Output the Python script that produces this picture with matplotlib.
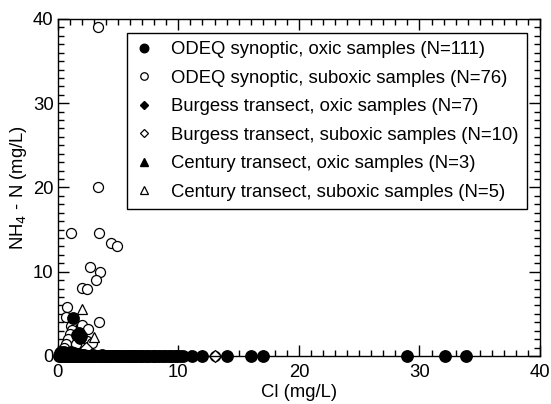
import matplotlib.pyplot as plt
from matplotlib.ticker import MultipleLocator

plt.rcParams['font.family'] = ['Liberation Sans', 'DejaVu Sans']

# ODEQ synoptic, oxic samples (N=111)
odeq_oxic_cl = [0.1, 0.2, 0.3, 0.3, 0.4, 0.5, 0.5, 0.6, 0.7, 0.8, 0.8, 0.9, 1.0, 1.0,
                1.1, 1.2, 1.3, 1.3, 1.4, 1.5, 1.6, 1.7, 1.8, 1.9, 2.0, 2.1, 2.2, 2.3,
                2.4, 2.5, 2.6, 2.7, 2.8, 2.9, 3.0, 3.1, 3.3, 3.4, 3.5, 3.6, 3.8, 3.9,
                4.0, 4.2, 4.3, 4.5, 4.6, 4.8, 4.9, 5.1, 5.2, 5.4, 5.5, 5.7, 5.8, 6.0,
                6.1, 6.3, 6.4, 6.6, 6.8, 6.9, 7.1, 7.3, 7.4, 7.6, 7.8, 8.0, 8.1, 8.3,
                8.5, 8.7, 8.9, 9.1, 9.3, 9.5, 9.7, 9.9, 10.1, 10.4, 11.1, 12.0, 14.0,
                16.0, 17.0, 29.0, 32.1, 33.9,
                0.2, 0.5, 0.8, 1.1, 1.3, 0.4, 0.9, 1.6, 2.2, 2.9, 3.7, 0.6, 1.4,
                2.0, 4.4, 5.0, 6.5, 1.27, 1.74, 1.6, 1.9, 1.8, 0.3]
odeq_oxic_nh4 = [0.0, 0.05, 0.0, 0.1, 0.0, 0.0, 0.1, 0.0, 0.05, 0.0, 0.1, 0.0, 0.0, 0.1,
                 0.0, 0.05, 0.0, 0.1, 0.0, 0.0, 0.05, 0.0, 0.0, 0.05, 0.0, 0.0, 0.0, 0.0,
                 0.0, 0.0, 0.0, 0.0, 0.0, 0.0, 0.0, 0.0, 0.0, 0.0, 0.0, 0.0, 0.0, 0.0,
                 0.0, 0.0, 0.0, 0.0, 0.0, 0.0, 0.0, 0.0, 0.0, 0.0, 0.0, 0.0, 0.0, 0.0,
                 0.0, 0.0, 0.0, 0.0, 0.0, 0.0, 0.0, 0.0, 0.0, 0.0, 0.0, 0.0, 0.0, 0.0,
                 0.0, 0.0, 0.0, 0.0, 0.0, 0.0, 0.0, 0.0, 0.0, 0.0, 0.0, 0.0, 0.0,
                 0.0, 0.0, 0.0, 0.0, 0.0,
                 0.4, 0.5, 0.35, 0.45, 0.3, 0.3, 0.2, 0.2, 0.15, 0.1, 0.1, 0.25, 0.2,
                 0.1, 0.05, 0.05, 0.05, 4.56, 2.78, 2.5, 2.4, 2.1, 0.5]

# ODEQ synoptic, suboxic samples (N=76)
odeq_sub_cl = [3.3, 3.3, 1.1, 3.4, 4.4, 4.9, 2.7, 3.5, 3.2, 2.0, 2.4, 0.8, 0.7, 1.4,
               1.1, 2.0, 3.4, 2.5, 1.2, 1.0, 0.86, 0.7, 2.4, 2.8, 0.5, 1.8, 1.5, 2.2,
               13.0, 0.3, 0.6, 0.9, 1.2, 1.5, 1.7, 2.1, 2.3, 2.6, 2.9, 3.1, 3.6, 3.9,
               4.1, 4.7, 5.3, 5.6, 5.9, 6.2, 6.7, 7.0, 7.5, 7.9, 8.4, 8.8, 9.2, 9.6,
               0.4, 0.7, 1.0, 1.3, 1.6, 1.9, 2.2, 2.5, 2.8, 3.2, 3.5, 4.0, 4.6, 5.3,
               6.0, 6.8, 7.7, 8.6, 9.4, 10.0]
odeq_sub_nh4 = [39.0, 20.0, 14.6, 14.6, 13.4, 13.1, 10.6, 10.0, 9.0, 8.1, 8.0, 5.8, 4.6, 3.8,
                3.6, 3.7, 4.0, 3.2, 3.1, 2.6, 2.0, 1.4, 1.8, 1.5, 1.0, 1.2, 1.4, 0.6,
                0.05, 0.3, 0.2, 0.3, 0.2, 0.1, 0.2, 0.1, 0.1, 0.1, 0.0, 0.0, 0.0, 0.0,
                0.0, 0.0, 0.0, 0.0, 0.0, 0.0, 0.0, 0.0, 0.0, 0.0, 0.0, 0.0, 0.0, 0.0,
                0.0, 0.1, 0.0, 0.1, 0.0, 0.0, 0.0, 0.0, 0.0, 0.0, 0.0, 0.0, 0.0, 0.0,
                0.0, 0.0, 0.0, 0.0, 0.0, 0.0]

# Burgess transect
burg_oxic_cl = [0.3, 0.6, 1.0, 1.5, 2.2, 3.0, 4.1]
burg_oxic_nh4 = [0.0, 0.1, 0.0, 0.1, 0.0, 0.0, 0.0]
burg_sub_cl = [2.3, 13.0, 0.4, 0.9, 1.6, 2.6, 3.7, 5.0, 6.2, 0.2]
burg_sub_nh4 = [1.0, 0.05, 0.1, 0.2, 0.1, 0.0, 0.0, 0.0, 0.0, 0.0]

# Century transect
cent_oxic_cl = [1.2, 2.1, 0.6]
cent_oxic_nh4 = [0.1, 0.2, 0.3]
cent_sub_cl = [2.0, 3.0, 0.9, 1.7, 2.6]
cent_sub_nh4 = [5.6, 2.3, 0.2, 0.4, 0.1]

labels = ['ODEQ synoptic, oxic samples (N=111)',
          'ODEQ synoptic, suboxic samples (N=76)',
          'Burgess transect, oxic samples (N=7)',
          'Burgess transect, suboxic samples (N=10)',
          'Century transect, oxic samples (N=3)',
          'Century transect, suboxic samples (N=5)']

fs = 13.3

fig = plt.figure(figsize=(5.51, 4.04), dpi=100)
ax = fig.add_axes([0.105, 0.119, 0.875, 0.834])

ms = 7.2
kw_open = dict(linestyle='none', markerfacecolor='white', markeredgecolor='black', markeredgewidth=0.9)
kw_fill = dict(linestyle='none', color='black')

h2, = ax.plot(odeq_sub_cl, odeq_sub_nh4, 'o', markersize=ms, **kw_open)
h4, = ax.plot(burg_sub_cl, burg_sub_nh4, 'D', markersize=ms - 1.5, **kw_open)
h6, = ax.plot(cent_sub_cl, cent_sub_nh4, '^', markersize=ms, **kw_open)
h1, = ax.plot(odeq_oxic_cl, odeq_oxic_nh4, 'o', markersize=ms + 1.0, **kw_fill)
h3, = ax.plot(burg_oxic_cl, burg_oxic_nh4, 'D', markersize=ms - 1.5, **kw_fill)
h5, = ax.plot(cent_oxic_cl, cent_oxic_nh4, '^', markersize=ms, **kw_fill)

ax.set_xlim(0, 40)
ax.set_ylim(0, 40)
ax.xaxis.set_major_locator(MultipleLocator(10))
ax.xaxis.set_minor_locator(MultipleLocator(1))
ax.yaxis.set_major_locator(MultipleLocator(10))
ax.yaxis.set_minor_locator(MultipleLocator(1))
ax.tick_params(which='both', direction='in', top=True, right=True, labelsize=fs, width=1)
ax.tick_params(which='major', length=8, pad=3)
ax.tick_params(which='minor', length=4)
ax.tick_params(axis='x', which='major', pad=6)
for s in ax.spines.values():
    s.set_linewidth(1)
for h in [h1, h2, h3, h4, h5, h6]:
    h.set_clip_on(False)

ax.set_xlabel('Cl (mg/L)', fontsize=fs, labelpad=2)
ax.set_ylabel('NH$_4$ - N (mg/L)', fontsize=fs, labelpad=3)

leg = ax.legend([h1, h2, h3, h4, h5, h6], labels, loc='upper right',
                bbox_to_anchor=(0.973, 0.958), borderaxespad=0, fancybox=False,
                edgecolor='black', framealpha=1, fontsize=fs, markerscale=0.75,
                handlelength=1.0, handletextpad=0.95, labelspacing=0.62, borderpad=0.45)
leg.get_frame().set_linewidth(1)

fig.savefig('out.png', dpi=100)
